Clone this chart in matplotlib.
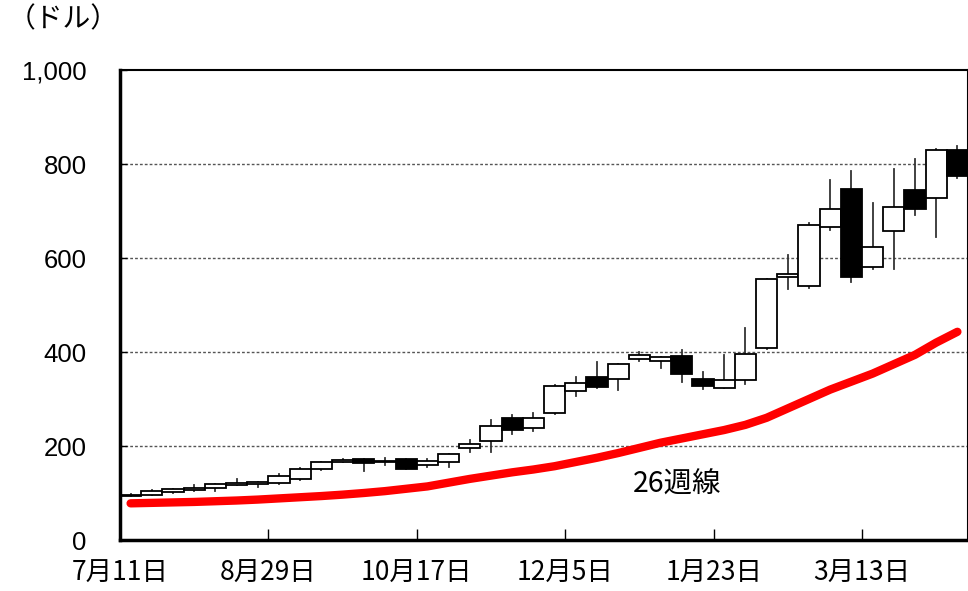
import matplotlib
matplotlib.use('Agg')
import matplotlib.pyplot as plt
from matplotlib.patches import Rectangle

plt.rcParams['font.family'] = ['Liberation Sans', 'Noto Sans CJK JP', 'DejaVu Sans']

# weekly candles (open, high, low, close), 7/11 onwards
opens = [94, 96, 103, 106, 110, 118, 119, 121, 129, 152,
         166, 172, 166, 172, 160, 166, 196, 211, 259, 239,
         270, 317, 346, 343, 385, 380, 391, 343, 324, 340,
         408, 560, 540, 667, 746, 580, 658, 745, 728, 830]
highs = [97, 106, 109, 116, 120, 130, 124, 140, 153, 167,
         172, 173, 174, 173, 172, 184, 213, 255, 266, 270,
         330, 347, 378, 375, 400, 390, 404, 357, 394, 451,
         556, 606, 674, 767, 786, 718, 789, 810, 831, 838]
lows = [93, 95, 100, 104, 105, 117, 113, 120, 127, 150,
        165, 147, 160, 151, 155, 156, 188, 188, 226, 232,
        268, 306, 324, 320, 381, 365, 337, 322, 323, 332,
        406, 533, 537, 660, 549, 576, 577, 692, 644, 770]
closes = [96, 105, 108, 110, 119, 122, 123, 136, 152, 166,
          171, 163, 167, 151, 168, 183, 204, 243, 234, 259,
          328, 333, 326, 374, 394, 389, 354, 328, 340, 395,
          555, 565, 670, 704, 560, 624, 709, 704, 830, 774]

# 26-week moving average
ma26 = [78, 79, 80, 81, 82.5, 84, 86, 88.5, 91, 93.5,
        96.5, 100, 104, 109, 114, 122, 130, 137, 144, 150,
        157, 166, 175, 185, 196, 207, 216, 225, 234, 245,
        260, 280, 300, 320, 337, 354, 374, 394, 420, 443]

tick_pos = [0, 7, 14, 21, 28, 35]
tick_labels = ['7月11日', '8月29日', '10月17日', '12月5日', '1月23日', '3月13日']
y_ticks = [0, 200, 400, 600, 800, 1000]
y_labels = ['0', '200', '400', '600', '800', '1,000']

fig = plt.figure(figsize=(9.68, 5.91), dpi=100)
ax = fig.add_axes([120 / 968, 1 - 540 / 591, 1 - 120 / 968, (540 - 70) / 591])

w = 1.0
for i in range(len(opens)):
    o, h, l, c = opens[i], highs[i], lows[i], closes[i]
    xc = i + 0.5
    ax.plot([xc, xc], [l, h], color='#333333', lw=1.3, zorder=2)
    lo, hi = min(o, c), max(o, c)
    face = 'white' if c >= o else 'black'
    ax.add_patch(Rectangle((i, lo), w, max(hi - lo, 1.5), facecolor=face,
                           edgecolor='black', lw=1.3, zorder=3))

xs = [i + 0.5 for i in range(len(ma26))]
ax.plot(xs, ma26, color='#ff0000', lw=6, solid_capstyle='round', zorder=4)
ax.text(26.3, 117, '26週線', fontsize=20.5, ha='center', va='center',
        family=['Noto Sans CJK JP'])

ax.set_xlim(0, 40)
ax.set_ylim(0, 1000)
ax.set_yticks(y_ticks)
ax.set_yticklabels(y_labels, fontsize=18.5)
ax.set_xticks(tick_pos)
ax.set_xticklabels(tick_labels, fontsize=19, family=['Noto Sans CJK JP'])
ax.tick_params(axis='x', direction='in', length=8, width=1, pad=14)
ax.tick_params(axis='y', direction='in', length=5, width=1, pad=24)
for y in [200, 400, 600, 800]:
    ax.axhline(y, color='#555555', lw=1, ls=(0, (2, 1.5)), zorder=1)

for s in ['left', 'bottom']:
    ax.spines[s].set_linewidth(2.5)
for s in ['top', 'right']:
    ax.spines[s].set_linewidth(1.5)

fig.text(8 / 968, 1 - 4 / 591, '（ドル）', fontsize=20, va='top', ha='left',
         family=['Noto Sans CJK JP'])

fig.savefig('out.png', dpi=100)
